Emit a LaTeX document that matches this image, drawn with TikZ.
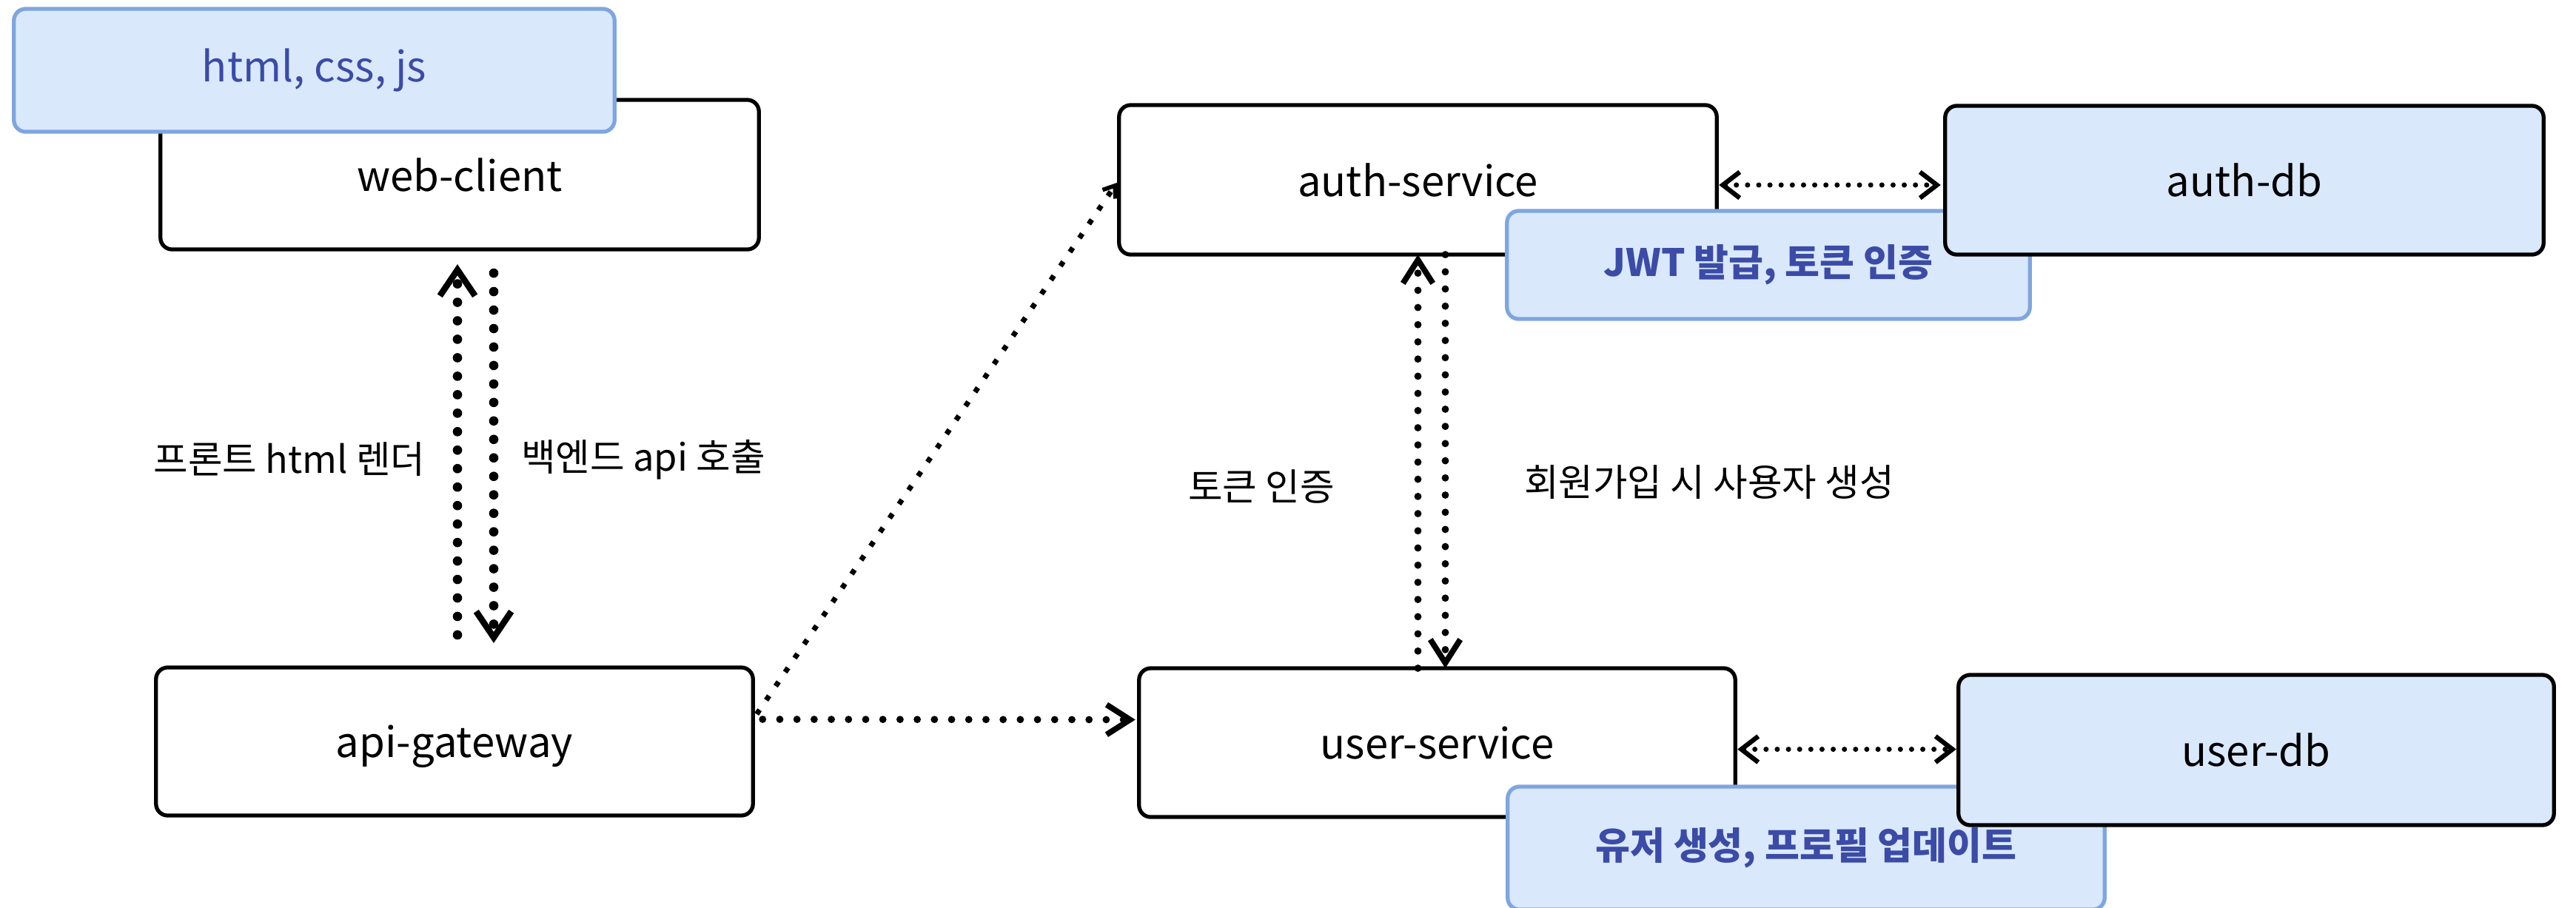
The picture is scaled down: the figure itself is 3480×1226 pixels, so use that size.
\documentclass[tikz,border=0pt]{standalone}
\usepackage{fontspec}
\setmainfont{Noto Sans CJK KR}
\usetikzlibrary{arrows.meta,calc}
\definecolor{notefill}{HTML}{DAE8FC}
\definecolor{noteline}{HTML}{7EA6E0}
\definecolor{notetext}{HTML}{3B4BA6}

\begin{document}
\begin{tikzpicture}[x=0.01cm,y=-0.01cm,
  every node/.style={inner sep=0pt, outer sep=0pt},
  lbl/.style={font=\fontsize{14.4pt}{17pt}\selectfont},
  svc/.style={draw=black, line width=1.5pt, rounded corners=4.5pt, fill=white,
    text depth=0pt, font=\fontsize{16pt}{19pt}\selectfont},
  dbbox/.style={svc, fill=notefill},
  note/.style={draw=noteline, line width=1.5pt, rounded corners=4.5pt, fill=notefill,
    text=notetext},
  notebold/.style={note, font=\bfseries\fontsize{14.5pt}{17pt}\selectfont},
  bigdot/.style={line width=3.6pt, dash pattern=on 0pt off 7.1pt, line cap=round},
  middot/.style={line width=2.8pt, dash pattern=on 0pt off 6.6pt, line cap=round},
  smalldot/.style={line width=2pt, dash pattern=on 0pt off 4.3pt, line cap=round},
  sqdot/.style={line width=2pt, dash pattern=on 2pt off 4.5pt},
  bigtip/.style={-{Straight Barb[length=10pt,width=13.5pt,line width=2.4pt]}},
  midtip/.style={-{Straight Barb[length=9pt,width=11.5pt,line width=2.2pt]}},
  smalltip/.style={{Straight Barb[length=6.5pt,width=10pt,line width=1.8pt]}-{Straight Barb[length=6.5pt,width=10pt,line width=1.8pt]}},
  tinytip/.style={-{Straight Barb[length=4pt,width=6pt,line width=1.6pt]}}
]
\useasboundingbox (0,0) rectangle (3480,1226);

% front end
\node[svc, minimum width=8.08cm, minimum height=2.02cm] (web) at (621,236) {web-client};
\node[note, minimum width=8.11cm, minimum height=1.66cm,
  font=\fontsize{16pt}{19pt}\selectfont] (html) at (424.5,95) {html, css, js};

% gateway
\node[svc, minimum width=8.06cm, minimum height=2.00cm] (api) at (614,1002) {api-gateway};

% auth side
\node[svc, minimum width=8.07cm, minimum height=2.02cm] (auth) at (1915.5,243) {auth-service};
\node[notebold, minimum width=7.06cm, minimum height=1.46cm] (jwt) at (2389,358) {JWT 발급, 토큰 인증};
\node[dbbox, minimum width=8.08cm, minimum height=2.01cm] (authdb) at (3032,243.5) {auth-db};

% user side
\node[svc, minimum width=8.05cm, minimum height=2.01cm] (user) at (1941.5,1003.5) {user-service};
\node[notebold, minimum width=8.06cm, minimum height=1.66cm] (unote) at (2440,1146) {유저 생성, 프로필 업데이트};
\node[dbbox, minimum width=8.04cm, minimum height=2.03cm] (userdb) at (3048,1013.5) {user-db};

% web-client <-> api-gateway
\draw[bigdot, bigtip] ($(api.north)+(4,-44)$) -- ($(web.south)+(-3,20)$);
\draw[bigdot, bigtip] ($(web.south)+(46,32)$) -- ($(api.north)+(53,-33)$);
\node[lbl] (lfront) at (391,621) {프론트 html 렌더};
\node[lbl] (lback) at (869,621) {백엔드 api 호출};

% api-gateway -> services
\draw[sqdot, tinytip] ($(api.east)+(5,-37)$) -- ($(auth.west)+(-3,4)$);
\draw[middot, midtip] ($(api.east)+(13,-30)$) -- ($(user.west)+(-5,-31)$);

% auth-service <-> user-service
\draw[middot, midtip] ($(user.north)+(-26,0)$) -- (auth.south);
\draw[middot, midtip] ($(auth.south)+(37,0)$) -- ($(user.north)+(11,0)$);
\node[lbl] (ltoken) at (1704,657) {토큰 인증};
\node[lbl] (ljoin) at (2309,652) {회원가입 시 사용자 생성};

% services <-> databases
\draw[smalldot, smalltip] ($(auth.east)+(3,7)$) -- ($(authdb.west)+(-6,6.5)$);
\draw[smalldot, smalltip] ($(user.east)+(3,9)$) -- ($(userdb.west)+(-3,-1)$);
\end{tikzpicture}
\end{document}
